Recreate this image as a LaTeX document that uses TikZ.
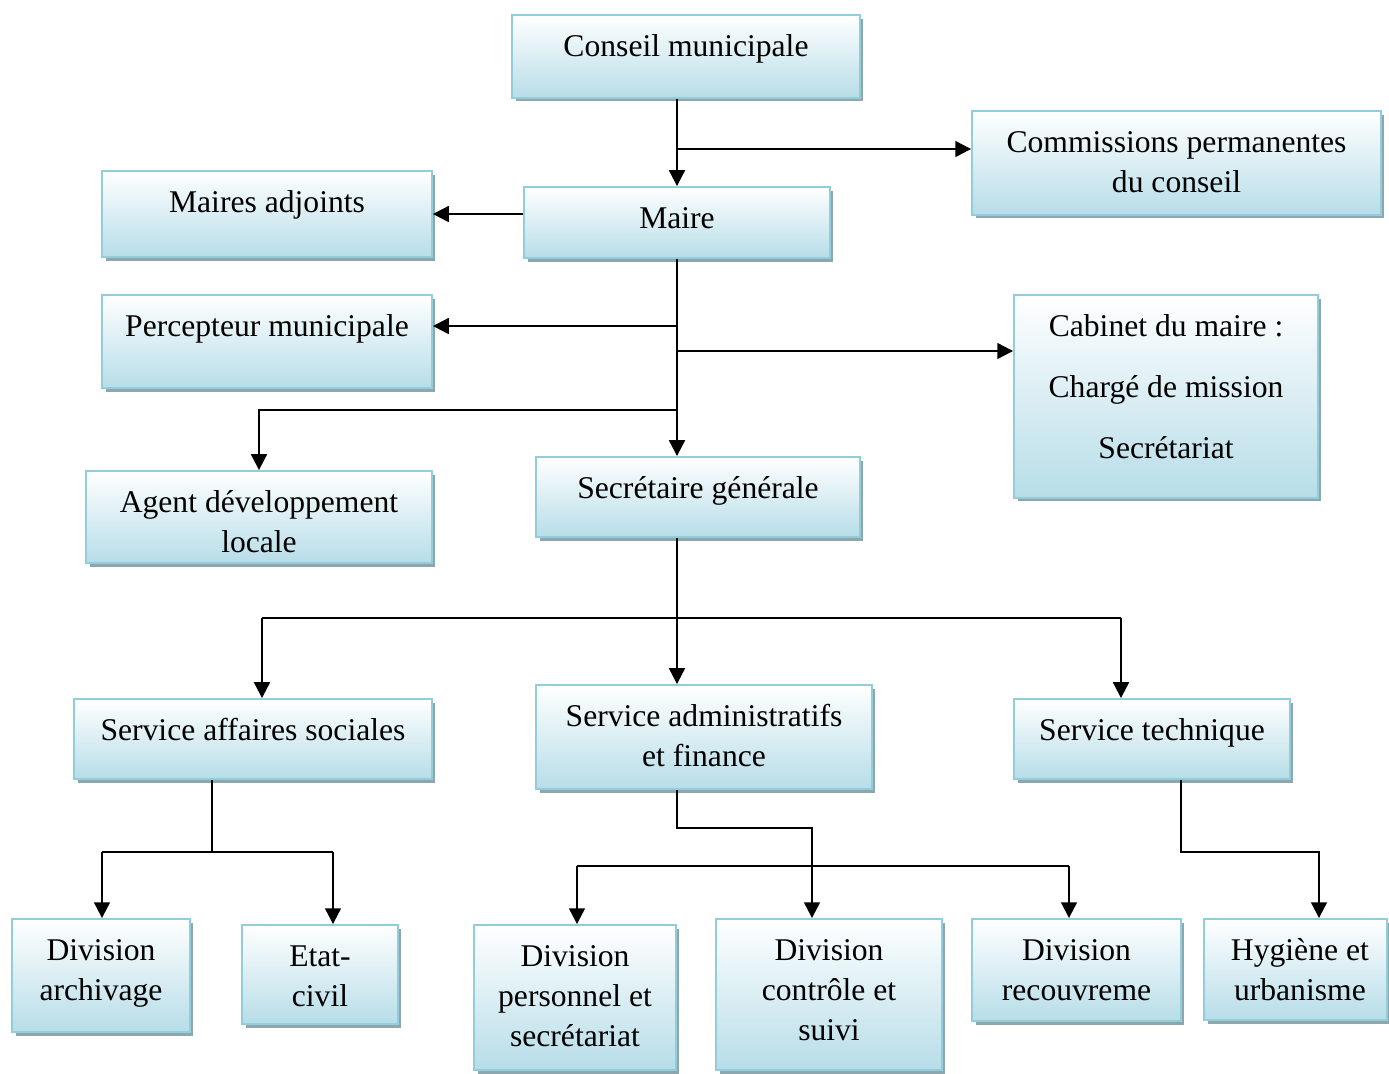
\documentclass[tikz,border=0pt]{standalone}
\usepackage{fontspec}
\setmainfont{Liberation Serif}
\usetikzlibrary{arrows.meta,shadows}
\definecolor{boxblue}{RGB}{183,221,232}
\definecolor{boxline}{RGB}{146,205,220}
\definecolor{boxshade}{RGB}{141,167,177}
% text sits at the top of each box
\newcommand\toptext[2]{\vbox to #1{\kern7.7pt\hbox{\begin{tabular}[t]{@{}c@{}}#2\end{tabular}}\vss}}
\tikzset{
  orgbox/.style={draw=boxline, line width=1.1pt, top color=white, bottom color=boxblue,
    inner sep=0pt, drop shadow={shadow xshift=0.07cm, shadow yshift=-0.07cm, fill=boxshade, opacity=1},
    font=\fontsize{18}{22.7}\selectfont},
  link/.style={line width=1.25pt},
  arr/.style={link, -{Triangle[length=9pt,width=9pt]}}
}
\begin{document}
\begin{tikzpicture}[x=0.02cm,y=-0.02cm]
\useasboundingbox (0,0) rectangle (1389,1073);

\node[orgbox, minimum width=6.96cm, minimum height=1.66cm] (conseil) at (686,56.5) {\toptext{1.66cm}{Conseil municipale}};
\node[orgbox, minimum width=8.18cm, minimum height=2.08cm] (commis) at (1176.5,163) {\toptext{2.08cm}{Commissions permanentes\\du conseil}};
\node[orgbox, minimum width=6.12cm, minimum height=1.42cm] (maire) at (677,222.5) {\toptext{1.42cm}{Maire}};
\node[orgbox, minimum width=6.6cm, minimum height=1.72cm] (adjoints) at (267,214) {\toptext{1.72cm}{Maires adjoints}};
\node[orgbox, minimum width=6.6cm, minimum height=1.86cm] (percep) at (267,341.5) {\toptext{1.86cm}{Percepteur municipale}};
\node[orgbox, minimum width=6.08cm, minimum height=4.06cm] (cabinet) at (1166,396.5) {\toptext{4.06cm}{Cabinet du maire :\\[11.9pt] Chargé de mission\\[11.9pt] Secrétariat}};
\node[orgbox, minimum width=6.92cm, minimum height=1.84cm] (agent) at (259,517) {\toptext{1.84cm}{Agent développement\\locale}};
\node[orgbox, minimum width=6.48cm, minimum height=1.6cm] (secgen) at (698,497) {\toptext{1.6cm}{Secrétaire générale}};

\node[orgbox, minimum width=7.16cm, minimum height=1.6cm] (social) at (253,739) {\toptext{1.6cm}{Service affaires sociales}};
\node[orgbox, minimum width=6.72cm, minimum height=2.08cm] (admfin) at (704,737) {\toptext{2.08cm}{Service administratifs\\et finance}};
\node[orgbox, minimum width=5.52cm, minimum height=1.6cm] (techn) at (1152,739) {\toptext{1.6cm}{Service technique}};

\node[orgbox, minimum width=3.56cm, minimum height=2.26cm] (archiv) at (101,975.5) {\toptext{2.26cm}{Division\\archivage}};
\node[orgbox, minimum width=3.12cm, minimum height=1.98cm] (etatciv) at (320,974.5) {\toptext{1.98cm}{Etat-\\civil}};
\node[orgbox, minimum width=4.04cm, minimum height=2.9cm] (person) at (575,997.5) {\toptext{2.9cm}{Division\\personnel et\\secrétariat}};
\node[orgbox, minimum width=4.52cm, minimum height=3.02cm] (controle) at (829,994.5) {\toptext{3.02cm}{Division\\contrôle et\\suivi}};
\node[orgbox, minimum width=4.18cm, minimum height=2.04cm] (recouv) at (1076.5,970) {\toptext{2.04cm}{Division\\recouvreme}};
\node[orgbox, minimum width=3.66cm, minimum height=2.02cm] (hygiene) at (1295.5,969.5) {\toptext{2.02cm}{\hspace{5pt}Hygiène et\\\hspace{5pt}urbanisme}};

% junctions
\coordinate (jcom) at (677,149);
\coordinate (jper) at (677,326);
\coordinate (jcab) at (677,351);
\coordinate (jagt) at (677,410);
\coordinate (jsrv) at (677,618);
\coordinate (jsoc) at (262,618);
\coordinate (jtec) at (1121,618);
\coordinate (jsa) at (212,852);
\coordinate (jarc) at (102,852);
\coordinate (jetc) at (333,852);
\coordinate (jaf) at (677,828);
\coordinate (jctl) at (812,828);
\coordinate (jper2) at (577,866);
\coordinate (jrec) at (1069,866);
\coordinate (jst) at (1181,852);
\coordinate (jhyg) at (1319,852);

\draw[arr] (maire.north |- conseil.south) -- (maire.north);
\draw[arr] (jcom) -- (jcom -| commis.west);
\draw[arr] (adjoints.east -| maire.west) -- (adjoints.east);
\draw[arr] (maire.south) -- (maire.south |- secgen.north);
\draw[arr] (jper) -- (jper -| percep.east);
\draw[arr] (jcab) -- (jcab -| cabinet.west);
\draw[arr] (jagt) -| (agent.north);

\draw[arr] (jsrv |- secgen.south) -- (jsrv |- admfin.north);
\draw[link] (jsoc) -- (jtec);
\draw[arr] (jsoc) -- (jsoc |- social.north);
\draw[arr] (jtec) -- (jtec |- techn.north);

\draw[link] (jsa |- social.south) -- (jsa);
\draw[link] (jarc) -- (jetc);
\draw[arr] (jarc) -- (jarc |- archiv.north);
\draw[arr] (jetc) -- (jetc |- etatciv.north);

\draw[arr] (jaf |- admfin.south) -- (jaf) -- (jctl) -- (jctl |- controle.north);
\draw[link] (jper2) -- (jrec);
\draw[arr] (jper2) -- (jper2 |- person.north);
\draw[arr] (jrec) -- (jrec |- recouv.north);

\draw[arr] (jst |- techn.south) -- (jst) -- (jhyg) -- (jhyg |- hygiene.north);
\end{tikzpicture}
\end{document}
